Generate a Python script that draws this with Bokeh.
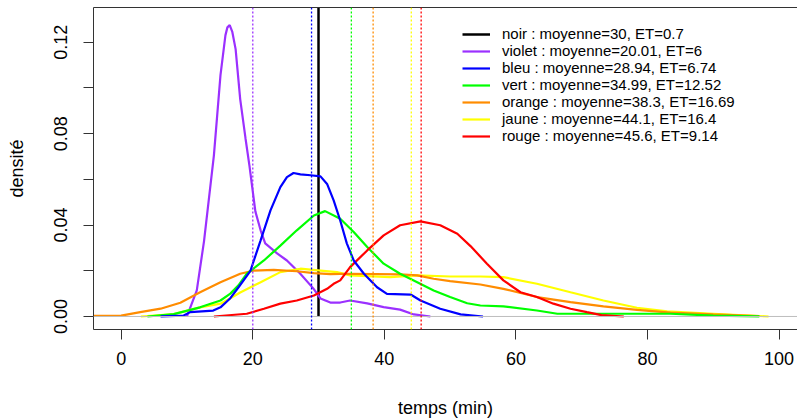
from bokeh.plotting import figure
from bokeh.models import (FixedTicker, Span, Legend, LegendItem, LinearAxis,
                          NumeralTickFormatter)
from bokeh.embed import file_html
from bokeh.resources import INLINE

# ---- data ----
x_ticks = [0, 20, 40, 60, 80, 100]
y_ticks = [0.0, 0.04, 0.08, 0.12]
y_minor = [0.02, 0.06, 0.10]

names = ["noir", "violet", "bleu", "vert", "orange", "jaune", "rouge"]
means = [30, 20.01, 28.94, 34.99, 38.3, 44.1, 45.6]
sds = [0.7, 6, 6.74, 12.52, 16.69, 16.4, 9.14]
colors = ["#000000", "#9B30FF", "#0000FF", "#00FF00", "#FF8C00", "#FFFF00", "#FF0000"]

violet_x = [10.0, 11.5, 12.6, 14.1, 14.6, 15.1, 15.85, 16.15, 16.5, 16.9, 17.4, 18.1, 18.9, 19.5,
            20.4, 21.2, 21.9, 23.7, 25.2, 27.2, 29.2, 30.3, 31.8, 33.3, 34.8, 37.4, 39.9, 42.4,
            44.5, 47.0]
violet_y = [0.0, 0.0114, 0.033, 0.0705, 0.088, 0.1056, 0.123, 0.1265, 0.1275, 0.1245, 0.117,
            0.095, 0.078, 0.066, 0.046, 0.0377, 0.032, 0.0276, 0.0245, 0.0188, 0.0123, 0.0079,
            0.0061, 0.0061, 0.007, 0.0057, 0.0041, 0.003, 0.0009, 0.0]

blue_x = [6.0, 9.5, 10.5, 14.0, 15.1, 16.6, 17.9, 19.65, 21.2, 22.7, 24.2, 25.2, 26.2, 27.25,
          28.8, 30.3, 31.3, 32.3, 33.3, 34.3, 35.35, 36.9, 38.9, 40.4, 44.0, 45.5, 48.5, 51.6, 55.0]
blue_y = [0.0, 0.0004, 0.0019, 0.0026, 0.004, 0.008, 0.013, 0.020, 0.0333, 0.0464, 0.0566, 0.061,
          0.0628, 0.0622, 0.0618, 0.0613, 0.058, 0.0508, 0.042, 0.032, 0.0245, 0.0187, 0.0128,
          0.0099, 0.0096, 0.007, 0.0034, 0.0009, 0.0]

green_x = [4.0, 8.0, 12.0, 13.6, 15.1, 16.6, 17.8, 19.1, 21.7, 24.2, 26.7, 29.3, 31.0, 33.3,
           35.35, 37.4, 39.9, 42.4, 45.0, 47.5, 50.0, 52.6, 54.6, 58.1, 63.2, 66.3, 73.3, 83.5,
           90.0, 97.0]
green_y = [0.0, 0.001, 0.004, 0.0056, 0.007, 0.010, 0.0135, 0.0187, 0.0245, 0.031, 0.0377, 0.0442,
           0.0461, 0.0428, 0.037, 0.0304, 0.0231, 0.0187, 0.015, 0.0114, 0.0085, 0.0058, 0.0048,
           0.0044, 0.0026, 0.0012, 0.0012, 0.0012, 0.0004, 0.0]

orange_x = [-5.0, 0.0, 2.9, 6.0, 9.0, 12.0, 15.1, 18.1, 20.2, 23.2, 26.7, 29.3, 31.8, 34.8, 42.4,
            45.0, 47.5, 50.0, 54.6, 58.1, 63.2, 68.3, 73.3, 78.4, 83.5, 90.0, 97.0]
orange_y = [0.0003, 0.0004, 0.0019, 0.0034, 0.006, 0.0106, 0.015, 0.0187, 0.0201, 0.0204, 0.0198,
            0.019, 0.0185, 0.0187, 0.0184, 0.018, 0.0165, 0.0155, 0.014, 0.0121, 0.0085, 0.0063,
            0.0044, 0.0029, 0.0017, 0.0009, 0.0002]

yellow_x = [3.0, 8.0, 12.0, 15.1, 16.6, 18.1, 21.2, 24.2, 27.25, 30.3, 32.8, 34.8, 40.9, 45.0,
            50.0, 54.6, 58.1, 63.2, 68.3, 73.3, 78.4, 83.0, 90.0, 98.4]
yellow_y = [0.0, 0.001, 0.004, 0.0056, 0.008, 0.0105, 0.015, 0.0194, 0.0209, 0.0201, 0.0194,
            0.018, 0.0172, 0.018, 0.0175, 0.0175, 0.0172, 0.0143, 0.0106, 0.007, 0.0038, 0.0022,
            0.0012, 0.0]

red_x = [14.1, 19.1, 21.7, 24.2, 26.7, 29.3, 31.3, 32.3, 33.3, 34.8, 37.4, 39.9, 42.4, 45.5,
         48.5, 51.1, 53.1, 55.6, 58.1, 60.7, 63.2, 65.7, 68.3, 70.8, 73.0, 76.4]
red_y = [0.0, 0.0012, 0.0034, 0.0056, 0.007, 0.0092, 0.0121, 0.0143, 0.0158, 0.0216, 0.0289,
         0.0355, 0.0399, 0.0416, 0.0399, 0.0362, 0.0308, 0.0231, 0.0158, 0.0106, 0.0085, 0.0056,
         0.0034, 0.0019, 0.0006, 0.0]

FONT = "Liberation Sans"

p = figure(width=797, height=420, x_range=(-4.2, 102.8), y_range=(-0.0057, 0.1352),
           output_backend="svg", toolbar_location=None,
           min_border_left=93, min_border_right=0, min_border_top=7, min_border_bottom=91,
           x_axis_label="temps (min)", y_axis_label="densité")
p.outline_line_color = None
p.xgrid.visible = False
p.ygrid.visible = False
p.background_fill_color = "white"
p.border_fill_color = "white"

for ax in (p.xaxis[0], p.yaxis[0]):
    ax.axis_line_color = "#333333"
    ax.major_tick_line_color = "#333333"
    ax.minor_tick_line_color = "#333333"
    ax.major_tick_out = 10
    ax.major_tick_in = 0
    ax.major_label_text_font = FONT
    ax.major_label_text_font_size = "18px"
    ax.major_label_text_color = "#000000"
    ax.axis_label_text_font = FONT
    ax.axis_label_text_font_size = "18px"
    ax.axis_label_text_font_style = "normal"
    ax.axis_label_text_color = "#000000"

p.xaxis.ticker = FixedTicker(ticks=x_ticks)
p.xaxis.major_label_standoff = 12
p.xaxis.axis_label_standoff = 30

p.yaxis.ticker = FixedTicker(ticks=y_ticks, minor_ticks=y_minor)
p.yaxis.formatter = NumeralTickFormatter(format="0.00")
p.yaxis.minor_tick_out = 10
p.yaxis.minor_tick_in = 0
p.yaxis.major_label_orientation = "vertical"
p.yaxis.major_label_standoff = 16
p.yaxis.axis_label_standoff = 25

top = LinearAxis(ticker=FixedTicker(ticks=[]), axis_line_color="#333333",
                 major_tick_out=0, major_tick_in=0, minor_tick_out=0, minor_tick_in=0,
                 major_label_text_font_size="0px")
p.add_layout(top, "above")

# zero line
p.add_layout(Span(location=0, dimension="width", line_color="#BEBEBE", line_width=1))

# mean lines
for m, c in zip(means[1:], colors[1:]):
    p.add_layout(Span(location=m, dimension="height", line_color=c, line_width=1.3,
                      line_dash="2 2"))

curves = {}
curves["noir"] = p.segment(x0=[means[0]], y0=[0], x1=[means[0]], y1=[1.0],
                           line_color=colors[0], line_width=2.5)
curves["violet"] = p.line(violet_x, violet_y, line_color=colors[1], line_width=2.2)
curves["jaune"] = p.line(yellow_x, yellow_y, line_color=colors[5], line_width=2.2)
curves["orange"] = p.line(orange_x, orange_y, line_color=colors[4], line_width=2.2)
curves["vert"] = p.line(green_x, green_y, line_color=colors[3], line_width=2.2)
curves["rouge"] = p.line(red_x, red_y, line_color=colors[6], line_width=2.2)
curves["bleu"] = p.line(blue_x, blue_y, line_color=colors[2], line_width=2.2)

items = []
for n, m, s in zip(names, means, sds):
    items.append(LegendItem(label=f"{n} : moyenne={m}, ET={s}", renderers=[curves[n]]))

legend = Legend(items=items, location=(369, 185), border_line_color=None,
                background_fill_alpha=0, label_text_font=FONT, label_text_font_size="15px",
                label_text_color="#000000",
                glyph_width=28, glyph_height=16, label_height=16, spacing=0, padding=0,
                margin=0, label_standoff=12)
p.add_layout(legend)

open("out.html", "w").write(file_html(p, INLINE))
